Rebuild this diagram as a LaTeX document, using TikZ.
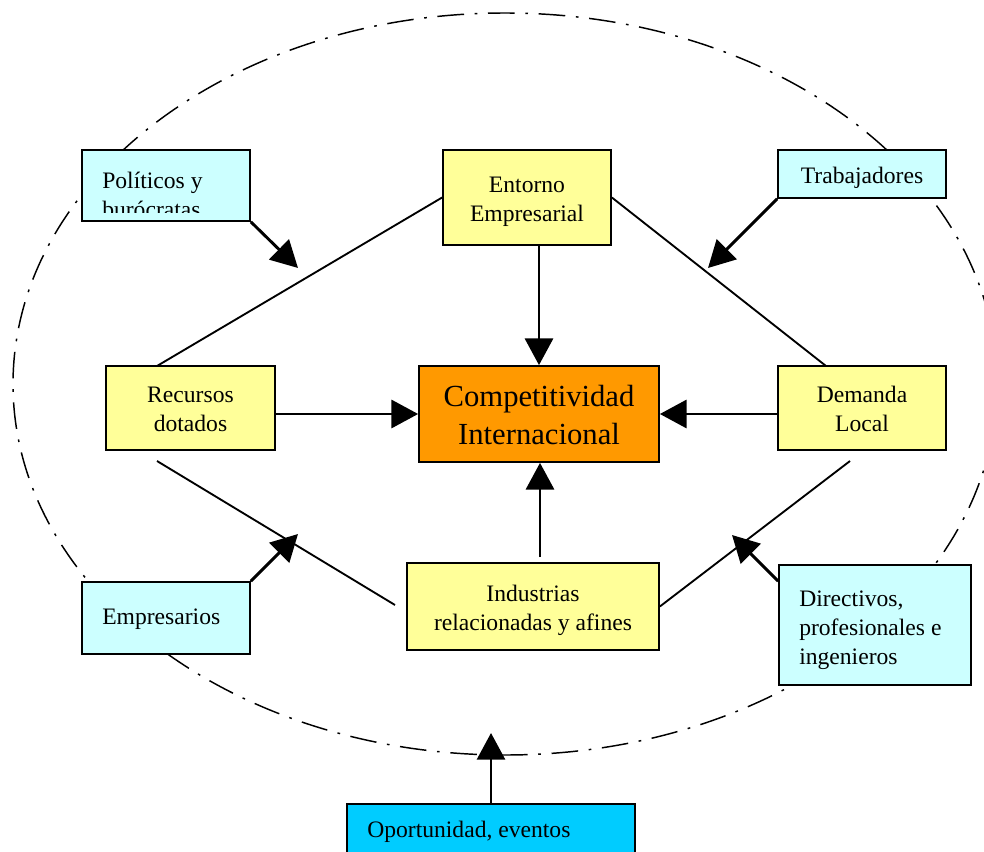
\documentclass[tikz,border=0pt]{standalone}
\usepackage{fontspec}
\setmainfont{Liberation Serif}
\usetikzlibrary{arrows.meta,fit,calc}
\definecolor{lyellow}{HTML}{FFFF99}
\definecolor{lcyan}{HTML}{CCFFFF}
\definecolor{orng}{HTML}{FF9900}
\definecolor{skyb}{HTML}{00CCFF}
\begin{document}
\begin{tikzpicture}[x=0.75pt,y=-0.75pt,
  boxbase/.style={draw=black,line width=1.3pt,inner sep=0pt},
  ybox/.style={boxbase,fill=lyellow},
  cbox/.style={boxbase,fill=lcyan},
  obox/.style={boxbase,fill=orng},
  sbox/.style={boxbase,fill=skyb},
  txt/.style={inner sep=0pt,align=left,font=\fontsize{17.7}{21.75}\selectfont},
  ctxt/.style={inner sep=0pt,align=center,font=\fontsize{17.7}{21.75}\selectfont},
  bigtxt/.style={inner sep=0pt,align=center,font=\fontsize{23}{29}\selectfont},
  plain/.style={line width=1.4pt},
  arr/.style={line width=2.2pt,-{Triangle[length=20pt,width=21pt]}},
  dashdotline/.style={line width=1.1pt,dash pattern=on 20pt off 8pt on 2pt off 8pt}]
\useasboundingbox (0,0) rectangle (984,852);
\clip (0,0) rectangle (984,852);

% outer dash-dot ellipse
\draw[dashdotline] (505,384) ellipse [x radius=492, y radius=371];

% free ends of the plain lines
\coordinate (recTop) at (157,366);
\coordinate (demTop) at (826,366);
\coordinate (recLow) at (157,461);
\coordinate (indLeft) at (395,605);
\coordinate (demLow) at (850,461);

% boxes
\node[cbox,fit={(82,150) (250,221)}] (pol) {};
\begin{scope}
  \clip (84,152) rectangle (248,213);
  \node[txt,anchor=base west] (poltxt1) at (102,189) {Políticos y};
  \node[txt,anchor=base west] (poltxt2) at (102,218) {burócratas};
\end{scope}
\node[ybox,fit={(443,150) (611,245)}] (ent) {};
\node[ctxt] (enttxt) at (527,202) {Entorno\\Empresarial};
\node[cbox,fit={(778,150) (946,198)}] (tra) {};
\node[ctxt] (tratxt) at (862,178) {Trabajadores};
\node[ybox,fit={(106,366) (275,450)}] (rec) {};
\node[ctxt] (rectxt) at (190.5,409) {Recursos\\dotados};
\node[obox,fit={(419,366) (659,462)}] (comp) {};
\node[bigtxt] (comptxt) at (539,415) {Competitividad\\Internacional};
\node[ybox,fit={(778,366) (946,450)}] (dem) {};
\node[ctxt] (demtxt) at (862,408.5) {Demanda\\Local};
\node[ybox,fit={(407,563) (659,650)}] (ind) {};
\node[ctxt] (indtxt) at (533,610) {Industrias\\relacionadas y afines};
\node[cbox,fit={(82,582) (250,654)}] (emp) {};
\node[txt,anchor=west] (emptxt) at (102,619) {Empresarios};
\node[cbox,fit={(779,565) (971,685)}] (dir) {};
\node[txt,anchor=west] (dirtxt) at (799,630.5) {Directivos,\\profesionales e\\ingenieros};
\node[sbox,fit={(347,804) (635,880)}] (opo) {};
\node[txt,anchor=west] (opotxt) at (367,832) {Oportunidad, eventos};

% helper coordinates
\coordinate (indtop) at (540,557);
\coordinate (polTip) at (298,268);
\coordinate (traTip) at (708,268);
\coordinate (empTip) at (298,534);
\coordinate (dirTip) at (732,535);
\coordinate (opoTip) at (491,733);

\draw[plain] (recTop) -- (ent.west);
\draw[plain] (ent.east) -- (demTop);
\draw[plain] (recLow) -- (indLeft);
\draw[plain] (ind.east) -- (demLow);

% arrows to the centre
\draw[arr] (ent.south -| comp.north) -- (comp.north);
\draw[arr] (rec.east |- comp.west) -- (comp.west);
\draw[arr] (dem.west |- comp.east) -- (comp.east);
\draw[arr] (indtop) -- (indtop |- comp.south);

% arrows from the outer actors
\draw[arr] (pol.south east) -- (polTip);
\draw[arr] (tra.south west) -- (traTip);
\draw[arr] (emp.north east) -- (empTip);
\draw[arr] ($(dir.north west)+(0,17)$) -- (dirTip);
\draw[arr] (opo.north) -- (opoTip);
\end{tikzpicture}
\end{document}
